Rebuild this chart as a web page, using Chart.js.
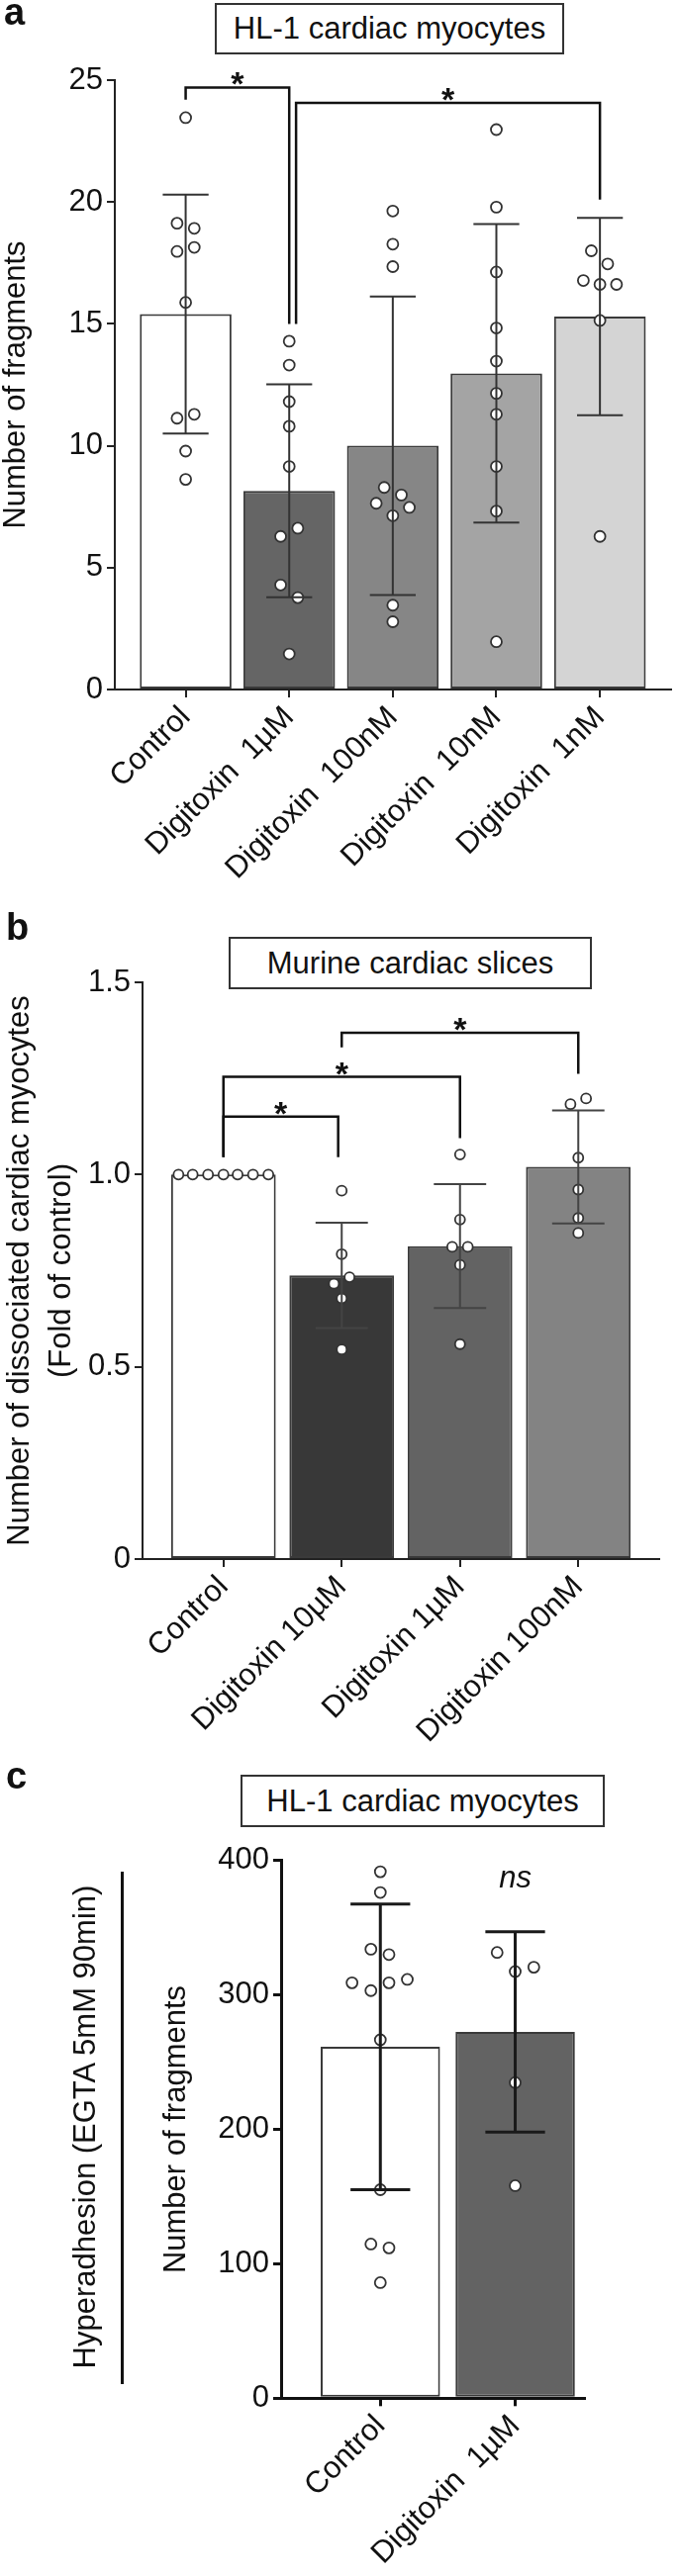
<!DOCTYPE html>
<html>
<head>
<meta charset="utf-8">
<script src="https://cdn.jsdelivr.net/npm/chart.js@4.4.0/dist/chart.umd.min.js"></script>
<style>
  body { margin: 0; background: #fff; }
  #page { position: relative; width: 685px; height: 2604px; font-family: 'Liberation Sans', Arial, sans-serif; color: #111; }
  canvas { position: absolute; left: 0; }
  .tag { position: absolute; font-weight: bold; font-size: 38px; line-height: 1; }
  .box { position: absolute; border: 2px solid #333; box-sizing: border-box; font-size: 31px;
         display: flex; align-items: center; justify-content: center; background: #fff; }
  .side { position: absolute; width: 519px; height: 40px; line-height: 40px; font-size: 31px; text-align: center;
          transform: rotate(-90deg); white-space: nowrap; }
  .rule { position: absolute; background: #111; }
</style>
</head>
<body>
<div id="page">
  <canvas id="chartA" width="685" height="905" style="top:0"></canvas>
  <canvas id="chartB" width="685" height="875" style="top:905px"></canvas>
  <canvas id="chartC" width="685" height="824" style="top:1780px"></canvas>

  <div class="tag" style="left:4px;top:-7px">a</div>
  <div class="box" style="left:217px;top:3px;width:353px;height:52px">HL-1 cardiac myocytes</div>

  <div class="tag" style="left:6px;top:918px">b</div>
  <div class="box" style="left:231px;top:947px;width:367px;height:53px">Murine cardiac slices</div>

  <div class="tag" style="left:6px;top:1776px">c</div>
  <div class="box" style="left:243px;top:1794px;width:368px;height:53px">HL-1 cardiac myocytes</div>
  <div class="side" style="left:-174px;top:2130px">Hyperadhesion (EGTA 5mM 90min)</div>
  <div class="rule" style="left:122px;top:1892px;width:2.5px;height:518px"></div>
</div>

<script>
// ---- panel a : HL-1 cardiac myocytes ----
const aCategories = ['Control', 'Digitoxin  1µM', 'Digitoxin  100nM', 'Digitoxin  10nM', 'Digitoxin  1nM'];
const aMeans = [15.4, 8.15, 10.0, 12.97, 15.3];
const aSD = [4.9, 4.37, 6.12, 6.12, 4.05];
const aDots = [
  [23.46, 19.13, 18.92, 18.14, 17.97, 15.88, 11.13, 11.29, 9.78, 8.62],
  [14.29, 13.31, 11.81, 10.80, 9.15, 6.62, 6.28, 4.29, 3.77, 1.46],
  [19.63, 18.27, 17.35, 8.29, 7.98, 7.64, 7.47, 7.13, 3.46, 2.78],
  [22.97, 19.79, 17.13, 14.83, 13.47, 12.15, 11.29, 9.15, 7.32, 1.96],
  [18.0, 17.46, 16.78, 16.62, 16.62, 15.14, 6.28]
];
const aJitter = [
  [0, -0.083, 0.083, 0.083, -0.083, 0, -0.083, 0.083, 0, 0],
  [0, 0, 0, 0, 0, 0.083, -0.083, -0.083, 0.083, 0],
  [0, 0, 0, -0.083, 0.083, -0.16, 0.16, 0, 0, 0],
  [0, 0, 0, 0, 0, 0, 0, 0, 0, 0],
  [-0.083, 0.075, -0.16, 0, 0.16, 0, 0]
];
// [from, to, line level, left foot, right foot]
const aBrackets = [[0, 1, 24.7, 24.2, 15.0], [1.066, 4, 24.07, 15.0, 20.1]];
const aYTicks = [0, 5, 10, 15, 20, 25];

// ---- panel b : murine cardiac slices ----
const bCategories = ['Control', 'Digitoxin 10µM', 'Digitoxin 1µM', 'Digitoxin 100nM'];
const bMeans = [1.0, 0.738, 0.814, 1.02];
const bSD = [0, 0.137, 0.161, 0.147];
const bDots = [
  [1, 1, 1, 1, 1, 1, 1],
  [0.958, 0.793, 0.733, 0.716, 0.678, 0.545],
  [1.052, 0.883, 0.812, 0.812, 0.765, 0.559],
  [1.198, 1.183, 1.044, 0.961, 0.887, 0.848]
];
const bJitter = [
  [-0.38, -0.26, -0.13, 0, 0.12, 0.25, 0.38],
  [0, 0, 0.066, -0.066, 0, 0],
  [0, 0, -0.066, 0.066, 0, 0],
  [0.066, -0.066, 0, 0, 0, 0]
];
const bBrackets = [[0, 0.97, 1.151, 1.045, 1.045], [0, 2, 1.254, 1.045, 1.095], [1, 3, 1.369, 1.331, 1.262]];
const bYTicks = [0, 0.5, 1.0, 1.5];

// ---- panel c : hyperadhesion ----
const cCategories = ['Control', 'Digitoxin  1µM'];
const cMeans = [261.4, 272.5];
const cSD = [106.2, 74.5];
const cDots = [
  [391.6, 376.2, 334, 330, 309, 309, 311.5, 303.2, 266.6, 155.1, 114.7, 111.8, 86],
  [331.6, 320.6, 317.4, 234.8, 158.1]
];
const cJitter = [
  [0, 0, -0.07, 0.064, -0.21, 0.064, 0.2, -0.07, 0, 0, -0.07, 0.064, 0],
  [-0.134, 0.138, 0, 0, 0]
];
const cYTicks = [0, 100, 200, 300, 400];

Chart.defaults.font.family = "'Liberation Sans', Arial, sans-serif";
Chart.defaults.font.size = 31;
Chart.defaults.color = '#111';

// error bars, significance brackets and labels drawn from the scales
const annotations = {
  id: 'annotations',
  afterDatasetsDraw(chart, args, o) {
    const { ctx, scales: { x, y } } = chart;
    const bars = chart.getDatasetMeta(0).data;
    ctx.save();
    ctx.strokeStyle = o.errColor;
    ctx.lineWidth = o.errWidth;
    o.means.forEach((m, i) => {
      const sd = o.sd[i];
      if (!sd) return;
      const px = x.getPixelForValue(i);
      const half = bars[i].width / 4;
      const top = y.getPixelForValue(m + sd);
      const bot = y.getPixelForValue(m - sd);
      ctx.beginPath();
      ctx.moveTo(px, top); ctx.lineTo(px, bot);
      ctx.moveTo(px - half, top); ctx.lineTo(px + half, top);
      ctx.moveTo(px - half, bot); ctx.lineTo(px + half, bot);
      ctx.stroke();
    });
    ctx.strokeStyle = '#111';
    ctx.lineWidth = 2.5;
    ctx.fillStyle = '#111';
    ctx.font = "bold 34px 'Liberation Sans', Arial, sans-serif";
    ctx.textAlign = 'center';
    ctx.textBaseline = 'alphabetic';
    (o.brackets || []).forEach(([x1, x2, lvl, f1, f2]) => {
      const p1 = x.getPixelForValue(x1), p2 = x.getPixelForValue(x2);
      const py = y.getPixelForValue(lvl);
      ctx.beginPath();
      ctx.moveTo(p1, y.getPixelForValue(f1));
      ctx.lineTo(p1, py);
      ctx.lineTo(p2, py);
      ctx.lineTo(p2, y.getPixelForValue(f2));
      ctx.stroke();
      ctx.fillText('*', (p1 + p2) / 2, py + 8);
    });
    if (o.note) {
      ctx.font = "italic 31px 'Liberation Sans', Arial, sans-serif";
      ctx.fillText(o.note.text, x.getPixelForValue(o.note.x), y.getPixelForValue(o.note.y));
    }
    ctx.restore();
  }
};

function makePanel(id, p) {
  const dots = p.dots.flatMap((vals, i) => vals.map((v, j) => ({ x: i + p.jitter[i][j], y: v })));
  return new Chart(document.getElementById(id), {
    type: 'bar',
    data: {
      datasets: [{
        type: 'bar',
        data: p.means.map((m, i) => ({ x: i, y: m })),
        backgroundColor: p.colors,
        borderColor: '#3a3a3a',
        borderWidth: 2,
        borderSkipped: false,
        barPercentage: 0.885,
        categoryPercentage: 1,
        order: 2
      }, {
        type: 'scatter',
        data: dots,
        pointRadius: p.radius,
        pointBorderWidth: 1.8,
        pointBackgroundColor: '#fff',
        pointBorderColor: '#333',
        order: 1
      }]
    },
    options: {
      responsive: false,
      animation: false,
      layout: { padding: { top: p.top, right: p.right, left: 0, bottom: 0 } },
      plugins: {
        legend: { display: false },
        tooltip: { enabled: false },
        annotations: { means: p.means, sd: p.sd, brackets: p.brackets, note: p.note,
                       errColor: p.errColor, errWidth: p.errWidth }
      },
      scales: {
        x: {
          type: 'linear',
          min: p.xMin,
          max: p.xMax,
          bounds: 'data',
          offset: false,
          afterBuildTicks: s => {
            s.ticks = p.categories.map((c, i) => ({ value: i }));
            s.min = p.xMin;
            s.max = p.xMax;
          },
          afterFit: s => { s.height = p.xHeight; },
          ticks: { autoSkip: false, includeBounds: false, minRotation: 45, maxRotation: 45, padding: 2,
                   callback: v => p.categories[v] },
          grid: { offset: false, drawOnChartArea: false, tickLength: 8, color: p.axisColor, lineWidth: p.axisWidth },
          border: { color: p.axisColor, width: p.axisWidth }
        },
        y: {
          min: 0,
          max: p.yTicks[p.yTicks.length - 1],
          afterBuildTicks: s => { s.ticks = p.yTicks.map(v => ({ value: v })); },
          afterFit: s => { s.width = p.yWidth; },
          ticks: { padding: 4, callback: p.yFormat || (v => v) },
          title: { display: true, text: p.yTitle, padding: { top: p.titlePad, bottom: 0 },
                   font: { size: 31, lineHeight: 1.35 } },
          grid: { drawOnChartArea: false, tickLength: 8, color: p.axisColor, lineWidth: p.axisWidth },
          border: { color: p.axisColor, width: p.axisWidth }
        }
      }
    },
    plugins: [annotations]
  });
}

makePanel('chartA', {
  categories: aCategories, means: aMeans, sd: aSD, dots: aDots, jitter: aJitter,
  brackets: aBrackets, yTicks: aYTicks, yTitle: 'Number of fragments',
  colors: ['#ffffff', '#656565', '#868686', '#a4a4a4', '#d4d4d4'],
  xMin: -0.684, xMax: 4.684, top: 81, right: 3.5, xHeight: 208, yWidth: 116, titlePad: -4,
  radius: 5.5, axisColor: '#222', axisWidth: 2, errColor: '#333', errWidth: 2
});

makePanel('chartB', {
  categories: bCategories, means: bMeans, sd: bSD, dots: bDots, jitter: bJitter,
  brackets: bBrackets, yTicks: bYTicks,
  yTitle: ['Number of dissociated cardiac myocytes', '(Fold of control)'],
  yFormat: v => (v === 0 ? '0' : v.toFixed(1)),
  colors: ['#ffffff', '#383838', '#636363', '#838383'],
  xMin: -0.684, xMax: 3.684, top: 88, right: 19, xHeight: 204, yWidth: 144, titlePad: 0,
  radius: 5, axisColor: '#222', axisWidth: 2, errColor: '#444', errWidth: 2
});

makePanel('chartC', {
  categories: cCategories, means: cMeans, sd: cSD, dots: cDots, jitter: cJitter,
  yTicks: cYTicks, yTitle: 'Number of fragments', note: { text: 'ns', x: 1, y: 380 },
  colors: ['#ffffff', '#636363'],
  xMin: -0.736, xMax: 1.51, top: 100.7, right: 95, xHeight: 179.7, yWidth: 284, titlePad: 158,
  radius: 5.5, axisColor: '#111', axisWidth: 3, errColor: '#1a1a1a', errWidth: 3
});
</script>
</body>
</html>
